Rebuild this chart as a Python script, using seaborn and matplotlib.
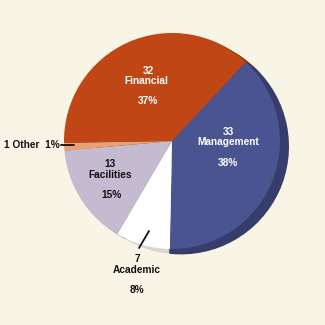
import matplotlib
matplotlib.use("Agg")
import matplotlib.pyplot as plt
import seaborn as sns

# ---- data ----
categories = ["Management", "Academic", "Facilities", "Other", "Financial"]
counts = [33, 7, 13, 1, 32]
percents = ["38%", "8%", "15%", "1%", "37%"]

sns.set_style("white")
plt.rcParams['font.family'] = ['Liberation Sans', 'DejaVu Sans']

bg = "#f8f4e6"
face_colors = sns.color_palette(["#4a5490", "#ffffff", "#c4bbd1", "#e8a272", "#c04616"])
shadow_colors = sns.color_palette(["#363d6b", "#d9d6d2", "#9a92a8", "#b57a50", "#8e3210"])

fig = plt.figure(figsize=(3.25, 3.25), dpi=100)
fig.patch.set_facecolor(bg)
ax = fig.add_axes([0, 0, 1, 1])
ax.set_facecolor(bg)

H = 325
cx, cy, R = 172, H - 141, 108
start = 47

# extrusion / shadow
for k in range(1, 10):
    dx = k
    dy = -k * 0.6
    wedges, _ = ax.pie(counts, colors=shadow_colors, startangle=start, counterclock=False,
                       radius=R, center=(cx + dx, cy + dy), frame=True,
                       wedgeprops=dict(linewidth=0))
    wedges[0].set_theta1(wedges[0].theta1 - 0.55 * k)
    wedges[0].set_zorder(1.5)
# top face
top, _ = ax.pie(counts, colors=face_colors, startangle=start, counterclock=False,
                radius=R, center=(cx, cy), frame=True, wedgeprops=dict(linewidth=0))
for w in top:
    w.set_zorder(2)
ax.set_xlim(0, 325)
ax.set_ylim(0, 325)
ax.set_aspect("equal")
ax.axis("off")

fs = 7.3
def lab(x, y, s, color):
    ax.text(x, H - y, s, ha="center", va="center", fontsize=fs,
            fontweight="bold", color=color, zorder=5)

# Financial
lab(148, 71, str(counts[4]), "white")
lab(146, 81, categories[4], "white")
lab(148, 101, percents[4], "white")
# Management
lab(228, 132, str(counts[0]), "white")
lab(228, 142, categories[0], "white")
lab(228, 163, percents[0], "white")
# Facilities
lab(110, 164, str(counts[2]), "#111111")
lab(110, 175, categories[2], "#111111")
lab(112, 195, percents[2], "#111111")
# Academic
lab(137, 259, str(counts[1]), "#111111")
lab(137, 270, categories[1], "#111111")
lab(137, 290, percents[1], "#111111")
# Other
ax.text(4, H - 145, f"{counts[3]} {categories[3]}  {percents[3]}", ha="left",
        va="center", fontsize=fs, fontweight="bold", color="#111111", zorder=5)
ax.plot([61, 74], [H - 145, H - 145], color="#111111", lw=1.3, zorder=5)
ax.plot([149, 139], [H - 231, H - 248], color="#111111", lw=1.3, zorder=5)

fig.savefig("out.png", dpi=100, facecolor=bg)
